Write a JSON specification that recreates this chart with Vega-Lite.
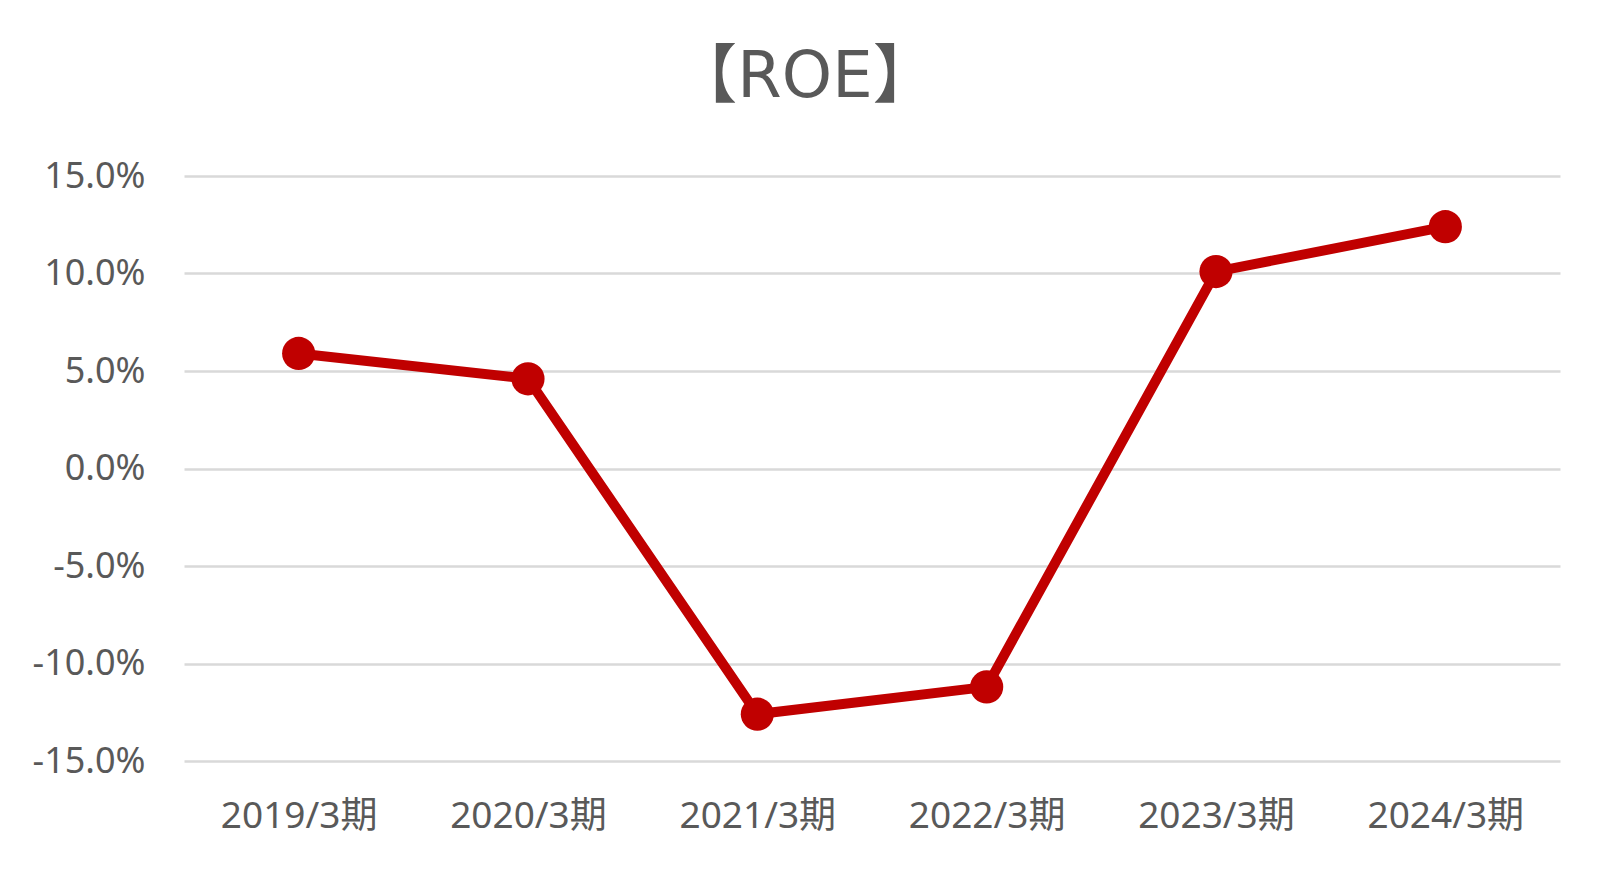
{
  "$schema": "https://vega.github.io/schema/vega-lite/v6.json",
  "autosize": {"type": "none"},
  "width": 1376,
  "height": 585,
  "padding": {"left": 184, "top": 176, "right": 52, "bottom": 111},
  "background": "white",
  "title": {
    "text": "【ROE】",
    "font": "DejaVu Sans, Noto Sans CJK JP",
    "fontSize": 64,
    "fontWeight": "normal",
    "color": "#595959",
    "anchor": "middle",
    "frame": "group",
    "dx": -67,
    "baseline": "alphabetic",
    "offset": -3
  },
  "data": {
    "values": [
      {"period": "2019/3期", "roe": 0.059},
      {"period": "2020/3期", "roe": 0.046},
      {"period": "2021/3期", "roe": -0.126},
      {"period": "2022/3期", "roe": -0.112},
      {"period": "2023/3期", "roe": 0.101},
      {"period": "2024/3期", "roe": 0.124}
    ]
  },
  "encoding": {
    "x": {
      "field": "period",
      "type": "ordinal",
      "sort": null,
      "scale": {"type": "point", "padding": 0.5},
      "axis": {
        "title": null,
        "labelAngle": 0,
        "labelFont": "Noto Sans, Noto Sans CJK JP",
        "labelFontSize": 37,
        "labelColor": "#595959",
        "labelPadding": 37,
        "ticks": false,
        "domain": false,
        "grid": false
      }
    },
    "y": {
      "field": "roe",
      "type": "quantitative",
      "scale": {"domain": [-0.15, 0.15], "nice": false, "zero": false},
      "axis": {
        "title": null,
        "format": ".1%",
        "labelExpr": "replace(datum.label, '−', '-')",
        "values": [-0.15, -0.1, -0.05, 0, 0.05, 0.1, 0.15],
        "labelFont": "Noto Sans",
        "labelFontSize": 36,
        "labelColor": "#595959",
        "labelPadding": 39,
        "ticks": false,
        "domain": false,
        "grid": true,
        "gridColor": "#D9D9D9",
        "gridWidth": 2.5
      }
    }
  },
  "layer": [
    {
      "mark": {"type": "line", "color": "#C00000", "strokeWidth": 10, "strokeJoin": "round"}
    },
    {
      "mark": {"type": "circle", "color": "#C00000", "opacity": 1, "size": 1100}
    }
  ],
  "config": {
    "view": {"stroke": null}
  }
}
